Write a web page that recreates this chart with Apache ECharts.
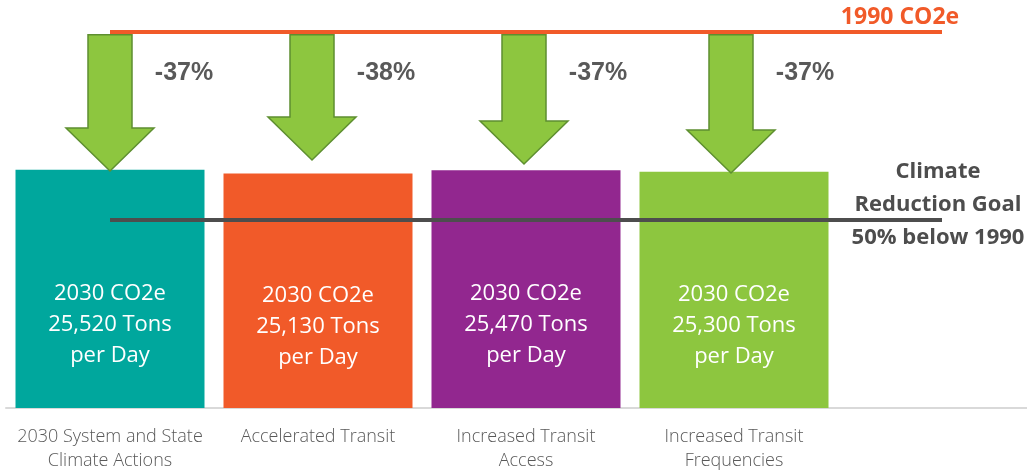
<!DOCTYPE html>
<html>
<head>
<meta charset="utf-8">
<script src="https://cdn.jsdelivr.net/npm/echarts@6/dist/echarts.min.js"></script>
<style>
  html, body { margin: 0; padding: 0; background: #fff; }
  #chart { width: 1027px; height: 470px; }
</style>
</head>
<body>
<div id="chart"></div>
<script>
// scenarios (last category left empty, room for the goal note)
var categories = ['2030 System and State\nClimate Actions', 'Accelerated Transit', 'Increased Transit\nAccess', 'Increased Transit\nFrequencies', ''];
// 2030 CO2e, tons per day
var emissions2030 = [25520, 25130, 25470, 25300];
// 1990 level
var baseline1990 = 40300;
var goalShare = 0.5;
// where each arrow head ends (value units)
var arrowTips = [25390, 26570, 26140, 25180];
var barColors = ['#00A79D', '#F15A29', '#92278F', '#8DC63F'];
var arrowShift = [0, -6, -2, -3];

var goalValue = baseline1990 * goalShare;

var barData = emissions2030.map(function (v, i) {
    return { value: v, itemStyle: { color: barColors[i] } };
});
var arrowData = emissions2030.map(function (v, i) {
    return [i, baseline1990, arrowTips[i], Math.round((v / baseline1990 - 1) * 100)];
});

var option = {
    backgroundColor: '#ffffff',
    animation: false,
    grid: { left: 6, top: 16, width: 1040, height: 392, outerBoundsMode: 'none', containLabel: false },
    xAxis: {
        type: 'category',
        data: categories,
        axisTick: { show: false },
        axisLine: { lineStyle: { color: '#D9D9D9', width: 2 } },
        axisLabel: {
            interval: 0,
            color: '#595959',
            fontFamily: 'Open Sans',
            fontWeight: 300,
            fontSize: 18,
            lineHeight: 24,
            margin: 17
        }
    },
    yAxis: {
        type: 'value',
        min: 0,
        max: 42000,
        show: false,
        splitLine: { show: false }
    },
    series: [
        {
            type: 'bar',
            data: barData,
            barWidth: 189,
            z: 2,
            label: {
                show: true,
                position: 'inside',
                offset: [0, 36],
                color: '#ffffff',
                fontFamily: 'Open Sans',
                fontSize: 22,
                lineHeight: 31,
                formatter: function (p) {
                    return '2030 CO2e\n' + p.value.toLocaleString('en-US') + ' Tons\nper Day';
                }
            },
            markLine: {
                silent: true,
                symbol: 'none',
                label: { show: false },
                data: [
                    [{ coord: [0, baseline1990], lineStyle: { color: '#F15A29', width: 4, type: 'solid' } },
                     { coord: [4, baseline1990] }],
                    [{ coord: [0, goalValue], lineStyle: { color: '#4D4D4D', width: 4, type: 'solid' } },
                     { coord: [4, goalValue] }]
                ]
            },
            markPoint: {
                silent: true,
                symbol: 'circle',
                symbolSize: 0,
                data: [
                    {
                        coord: [4, baseline1990],
                        label: {
                            show: true,
                            formatter: '1990 CO2e',
                            offset: [-42, -14],
                            color: '#F15A29',
                            fontFamily: 'Open Sans',
                            fontWeight: 'bold',
                            fontSize: 23
                        }
                    },
                    {
                        coord: [4, goalValue],
                        label: {
                            show: true,
                            formatter: 'Climate\nReduction Goal\n50% below 1990',
                            offset: [-4, -15],
                            align: 'center',
                            color: '#4D4D4D',
                            fontFamily: 'Open Sans',
                            fontWeight: 'bold',
                            fontSize: 22,
                            lineHeight: 33
                        }
                    }
                ]
            }
        },
        {
            type: 'custom',
            z: 3,
            data: arrowData,
            encode: { x: 0, y: [1, 2] },
            renderItem: function (params, api) {
                var i = params.dataIndex;
                var top = api.coord([api.value(0), api.value(1)]);
                var tip = api.coord([api.value(0), api.value(2)]);
                var x = top[0] + arrowShift[i];
                var y0 = top[1] + 3;
                var ty = tip[1];
                var hb = ty - 43;
                return {
                    type: 'group',
                    children: [
                        {
                            type: 'polygon',
                            shape: {
                                points: [[x - 22, y0], [x + 22, y0], [x + 22, hb], [x + 44, hb],
                                         [x, ty], [x - 44, hb], [x - 22, hb]]
                            },
                            style: { fill: '#8DC63F', stroke: '#5E8F30', lineWidth: 1.5 }
                        },
                        {
                            type: 'text',
                            style: {
                                text: api.value(3) + '%',
                                x: x + 74,
                                y: top[1] + 41,
                                align: 'center',
                                verticalAlign: 'middle',
                                fill: '#595959',
                                font: 'bold 25px "Liberation Sans", Arial, sans-serif'
                            }
                        }
                    ]
                };
            }
        }
    ]
};

var chart = echarts.init(document.getElementById('chart'));
chart.setOption(option);
</script>
</body>
</html>
